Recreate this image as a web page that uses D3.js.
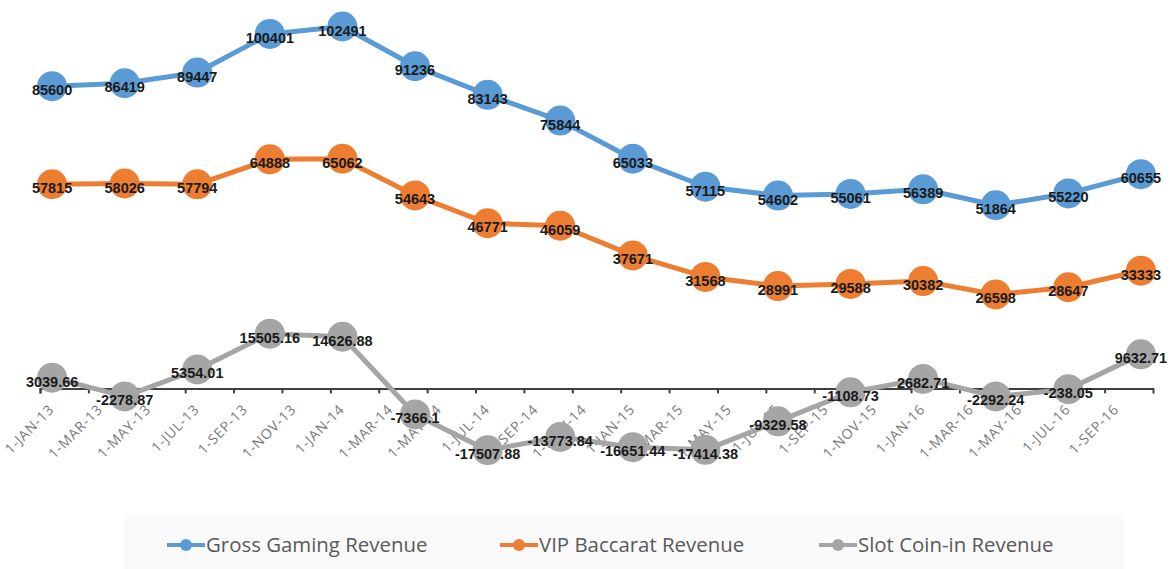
<!DOCTYPE html>
<html>
<head>
    <meta charset="UTF-8">
    <title>Macau Gaming Revenue</title>
    <script src="https://d3js.org/d3.v7.min.js"></script>
    <style>
        body { margin: 0; background: #fff; font-family: "Open Sans", Arial, sans-serif; }
        .data-label { font-family: "Liberation Sans", Arial, sans-serif; font-weight: bold; font-size: 14.5px; fill: #1a1a1a; }
        .tick-label { font-family: "Open Sans", sans-serif; font-size: 14px; letter-spacing: 0.8px; fill: #7a7a7a; }
        .legend-text { font-family: "Open Sans", sans-serif; font-size: 20.4px; fill: #595959; }
    </style>
</head>
<body>
<div id="chart"></div>
<script>
// quarterly observations (first month of each quarter)
const periods = ["2013-01", "2013-04", "2013-07", "2013-10", "2014-01", "2014-04", "2014-07", "2014-10",
                 "2015-01", "2015-04", "2015-07", "2015-10", "2016-01", "2016-04", "2016-07", "2016-10"];

const grossGaming = [85600, 86419, 89447, 100401, 102491, 91236, 83143, 75844,
                     65033, 57115, 54602, 55061, 56389, 51864, 55220, 60655];
const vipBaccarat = [57815, 58026, 57794, 64888, 65062, 54643, 46771, 46059,
                     37671, 31568, 28991, 29588, 30382, 26598, 28647, 33333];
const slotCoinIn = [3039.66, -2278.87, 5354.01, 15505.16, 14626.88, -7366.1, -17507.88, -13773.84,
                    -16651.44, -17414.38, -9329.58, -1108.73, 2682.71, -2292.24, -238.05, 9632.71];

const tickLabels = ["1-JAN-13", "1-MAR-13", "1-MAY-13", "1-JUL-13", "1-SEP-13", "1-NOV-13",
                    "1-JAN-14", "1-MAR-14", "1-MAY-14", "1-JUL-14", "1-SEP-14", "1-NOV-14",
                    "1-JAN-15", "1-MAR-15", "1-MAY-15", "1-JUL-15", "1-SEP-15", "1-NOV-15",
                    "1-JAN-16", "1-MAR-16", "1-MAY-16", "1-JUL-16", "1-SEP-16"];

const seriesNames = ["Gross Gaming Revenue", "VIP Baccarat Revenue", "Slot Coin-in Revenue"];
const seriesColors = ["#5B9BD5", "#ED7D31", "#A5A5A5"];

const width = 1172, height = 569;

// months since Jan 2013
const monthIndex = p => {
    const [y, m] = p.split("-").map(Number);
    return (y - 2013) * 12 + (m - 1);
};

const svg = d3.select("#chart").append("svg")
    .attr("width", width)
    .attr("height", height);

// date axis in months, points sit in the middle of their month
const x = d3.scaleLinear().domain([0, 46]).range([40, 1153]);
const y = d3.scaleLinear().domain([-20000, 110000]).range([459, 0]);

// legend background
svg.append("rect")
    .attr("x", 124).attr("y", 515)
    .attr("width", 1000).attr("height", 60)
    .attr("fill", "#fafafa");

// x axis on the zero line
const tickVals = tickLabels.map((d, i) => i * 2);
const xAxis = d3.axisBottom(x)
    .tickValues(tickVals)
    .tickSize(5)
    .tickSizeOuter(5)
    .tickFormat("");

const axisG = svg.append("g")
    .attr("transform", `translate(0,${y(0)})`)
    .call(xAxis);
axisG.select(".domain").attr("stroke", "#3f3f3f").attr("stroke-width", 2);
axisG.selectAll(".tick line").attr("stroke", "#3f3f3f").attr("stroke-width", 2);

svg.append("g").selectAll("text")
    .data(tickLabels)
    .join("text")
    .attr("class", "tick-label")
    .attr("text-anchor", "end")
    .attr("transform", (d, i) => `translate(${x(i * 2) + 15},${y(0) + 22}) rotate(-45)`)
    .text(d => d);

const allSeries = [grossGaming, vipBaccarat, slotCoinIn];

const line = d3.line()
    .x((d, i) => x(monthIndex(periods[i]) + 0.5))
    .y(d => y(d));

const fmt = v => String(v);

allSeries.forEach((values, s) => {
    const g = svg.append("g");
    g.append("path")
        .datum(values)
        .attr("fill", "none")
        .attr("stroke", seriesColors[s])
        .attr("stroke-width", 5)
        .attr("stroke-linejoin", "round")
        .attr("d", line);
    g.selectAll("circle")
        .data(values)
        .join("circle")
        .attr("cx", (d, i) => x(monthIndex(periods[i]) + 0.5))
        .attr("cy", d => y(d))
        .attr("r", 15)
        .attr("fill", seriesColors[s]);
});

allSeries.forEach(values => {
    svg.append("g").selectAll("text")
        .data(values)
        .join("text")
        .attr("class", "data-label")
        .attr("text-anchor", "middle")
        .attr("x", (d, i) => x(monthIndex(periods[i]) + 0.5))
        .attr("y", d => y(d) + 9)
        .text(fmt);
});

// legend
const legendX = [167, 500, 819];
const legend = svg.append("g");
seriesNames.forEach((name, i) => {
    const lg = legend.append("g").attr("transform", `translate(${legendX[i]},545)`);
    lg.append("line")
        .attr("x1", 0).attr("x2", 38)
        .attr("stroke", seriesColors[i]).attr("stroke-width", 4);
    lg.append("circle")
        .attr("cx", 19).attr("r", 6)
        .attr("fill", seriesColors[i]);
    lg.append("text")
        .attr("class", "legend-text")
        .attr("x", 39)
        .attr("dy", "0.35em")
        .text(name);
});
</script>
</body>
</html>
